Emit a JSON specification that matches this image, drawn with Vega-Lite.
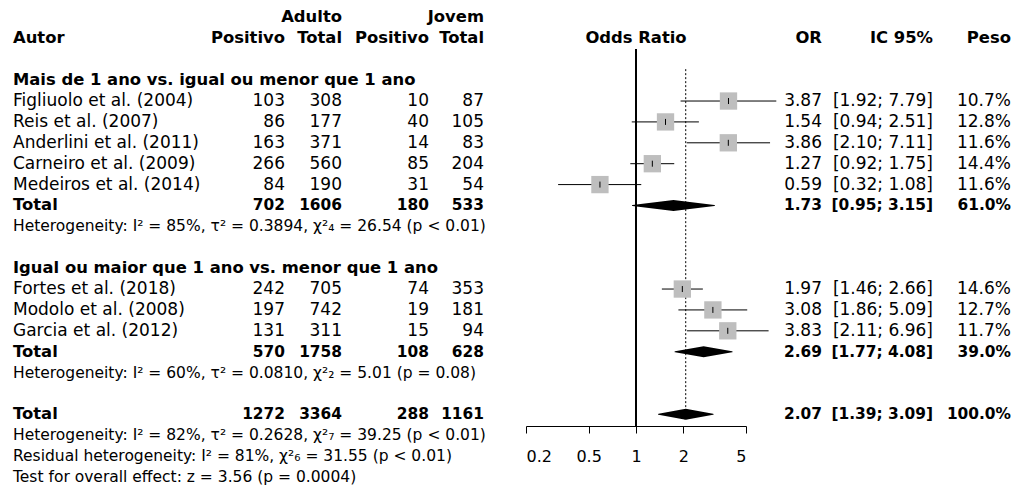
{
  "$schema": "https://vega.github.io/schema/vega-lite/v6.json",
  "width": 1013,
  "height": 485,
  "autosize": {"type": "none"},
  "padding": 0,
  "background": "white",
  "config": {
    "view": {"stroke": null},
    "axis": {"grid": false, "domainColor": "#000", "tickColor": "#000", "labelColor": "#000", "labelFont": "DejaVu Sans", "labelFontSize": 16, "tickSize": 7, "domainWidth": 1, "tickWidth": 1},
    "text": {"font": "DejaVu Sans", "fontSize": 17, "color": "#000", "baseline": "middle"}
  },
  "data": {"values": [
    {"rid": "hA", "kind": "header", "autor": "", "ap": "", "at": "Adulto", "jp": "", "jt": "Jovem", "ic": "", "peso": "", "orl": "", "plot": ""},
    {"rid": "hB", "kind": "header", "autor": "Autor", "ap": "Positivo", "at": "Total", "jp": "Positivo", "jt": "Total", "ic": "IC 95%", "peso": "Peso", "orl": "OR", "plot": "Odds Ratio"},
    {"rid": "g1", "kind": "group", "autor": "Mais de 1 ano vs. igual ou menor que 1 ano"},
    {"rid": "s1", "kind": "study", "autor": "Figliuolo et al. (2004)", "ap": 103, "at": 308, "jp": 10, "jt": 87, "or": 3.87, "lo": 1.92, "hi": 7.79, "ic": "[1.92; 7.79]", "peso": "10.7%"},
    {"rid": "s2", "kind": "study", "autor": "Reis et al. (2007)", "ap": 86, "at": 177, "jp": 40, "jt": 105, "or": 1.54, "lo": 0.94, "hi": 2.51, "ic": "[0.94; 2.51]", "peso": "12.8%"},
    {"rid": "s3", "kind": "study", "autor": "Anderlini et al. (2011)", "ap": 163, "at": 371, "jp": 14, "jt": 83, "or": 3.86, "lo": 2.10, "hi": 7.11, "ic": "[2.10; 7.11]", "peso": "11.6%"},
    {"rid": "s4", "kind": "study", "autor": "Carneiro et al. (2009)", "ap": 266, "at": 560, "jp": 85, "jt": 204, "or": 1.27, "lo": 0.92, "hi": 1.75, "ic": "[0.92; 1.75]", "peso": "14.4%"},
    {"rid": "s5", "kind": "study", "autor": "Medeiros et al. (2014)", "ap": 84, "at": 190, "jp": 31, "jt": 54, "or": 0.59, "lo": 0.32, "hi": 1.08, "ic": "[0.32; 1.08]", "peso": "11.6%"},
    {"rid": "t1", "kind": "total", "autor": "Total", "ap": 702, "at": 1606, "jp": 180, "jt": 533, "or": 1.73, "lo": 0.95, "hi": 3.15, "ic": "[0.95; 3.15]", "peso": "61.0%"},
    {"rid": "h1", "kind": "het", "autor": "Heterogeneity: I² = 85%, τ² = 0.3894, χ²₄ = 26.54 (p < 0.01)"},
    {"rid": "g2", "kind": "group", "autor": "Igual ou maior que 1 ano vs. menor que 1 ano"},
    {"rid": "s6", "kind": "study", "autor": "Fortes et al. (2018)", "ap": 242, "at": 705, "jp": 74, "jt": 353, "or": 1.97, "lo": 1.46, "hi": 2.66, "ic": "[1.46; 2.66]", "peso": "14.6%"},
    {"rid": "s7", "kind": "study", "autor": "Modolo et al. (2008)", "ap": 197, "at": 742, "jp": 19, "jt": 181, "or": 3.08, "lo": 1.86, "hi": 5.09, "ic": "[1.86; 5.09]", "peso": "12.7%"},
    {"rid": "s8", "kind": "study", "autor": "Garcia et al. (2012)", "ap": 131, "at": 311, "jp": 15, "jt": 94, "or": 3.83, "lo": 2.11, "hi": 6.96, "ic": "[2.11; 6.96]", "peso": "11.7%"},
    {"rid": "t2", "kind": "total", "autor": "Total", "ap": 570, "at": 1758, "jp": 108, "jt": 628, "or": 2.69, "lo": 1.77, "hi": 4.08, "ic": "[1.77; 4.08]", "peso": "39.0%"},
    {"rid": "h2", "kind": "het", "autor": "Heterogeneity: I² = 60%, τ² = 0.0810, χ²₂ = 5.01 (p = 0.08)"},
    {"rid": "t0", "kind": "total", "autor": "Total", "ap": 1272, "at": 3364, "jp": 288, "jt": 1161, "or": 2.07, "lo": 1.39, "hi": 3.09, "ic": "[1.39; 3.09]", "peso": "100.0%"},
    {"rid": "h0a", "kind": "het", "autor": "Heterogeneity: I² = 82%, τ² = 0.2628, χ²₇ = 39.25 (p < 0.01)"},
    {"rid": "h0b", "kind": "het", "autor": "Residual heterogeneity: I² = 81%, χ²₆ = 31.55 (p < 0.01)"},
    {"rid": "h0c", "kind": "het", "autor": "Test for overall effect: z = 3.56 (p = 0.0004)"}
  ]},
  "encoding": {
    "y": {"field": "rid", "type": "nominal", "axis": null,
      "scale": {"type": "point", "domain": ["hA", "hB", "sp0", "g1", "s1", "s2", "s3", "s4", "s5", "t1", "h1", "sp1", "g2", "s6", "s7", "s8", "t2", "h2", "sp2", "t0", "h0a", "h0b", "h0c"], "padding": 0.6086, "align": 0.687}}
  },
  "layer": [
    {
      "layer": [
        {"transform": [{"filter": "datum.kind === 'study'"}], "mark": {"type": "text", "align": "left"},
         "encoding": {"x": {"datum": 13, "type": "quantitative", "scale": {"domain": [0, 1013], "nice": false, "zero": false}, "axis": null}, "text": {"field": "autor", "type": "nominal"}}},
        {"transform": [{"filter": "datum.kind === 'group' || datum.kind === 'total' || datum.kind === 'header'"}], "mark": {"type": "text", "align": "left", "fontWeight": "bold", "fontSize": 16.4},
         "encoding": {"x": {"datum": 13, "type": "quantitative"}, "text": {"field": "autor", "type": "nominal"}}},
        {"transform": [{"filter": "datum.kind === 'het'"}], "mark": {"type": "text", "align": "left", "fontSize": 15.5},
         "encoding": {"x": {"datum": 13, "type": "quantitative"}, "text": {"field": "autor", "type": "nominal"}}},

        {"transform": [{"filter": "datum.kind === 'study'"}], "mark": {"type": "text", "align": "right"},
         "encoding": {"x": {"datum": 285, "type": "quantitative"}, "text": {"field": "ap", "type": "nominal"}}},
        {"transform": [{"filter": "datum.kind === 'study'"}], "mark": {"type": "text", "align": "right"},
         "encoding": {"x": {"datum": 342, "type": "quantitative"}, "text": {"field": "at", "type": "nominal"}}},
        {"transform": [{"filter": "datum.kind === 'study'"}], "mark": {"type": "text", "align": "right"},
         "encoding": {"x": {"datum": 429, "type": "quantitative"}, "text": {"field": "jp", "type": "nominal"}}},
        {"transform": [{"filter": "datum.kind === 'study'"}], "mark": {"type": "text", "align": "right"},
         "encoding": {"x": {"datum": 484, "type": "quantitative"}, "text": {"field": "jt", "type": "nominal"}}},

        {"transform": [{"filter": "datum.kind === 'header'"}], "mark": {"type": "text", "align": "right", "fontWeight": "bold", "fontSize": 16.4},
         "encoding": {"x": {"datum": 285, "type": "quantitative"}, "text": {"field": "ap", "type": "nominal"}}},
        {"transform": [{"filter": "datum.kind === 'header'"}], "mark": {"type": "text", "align": "right", "fontWeight": "bold", "fontSize": 16.4},
         "encoding": {"x": {"datum": 342, "type": "quantitative"}, "text": {"field": "at", "type": "nominal"}}},
        {"transform": [{"filter": "datum.kind === 'header'"}], "mark": {"type": "text", "align": "right", "fontWeight": "bold", "fontSize": 16.4},
         "encoding": {"x": {"datum": 429, "type": "quantitative"}, "text": {"field": "jp", "type": "nominal"}}},
        {"transform": [{"filter": "datum.kind === 'header'"}], "mark": {"type": "text", "align": "right", "fontWeight": "bold", "fontSize": 16.4},
         "encoding": {"x": {"datum": 484, "type": "quantitative"}, "text": {"field": "jt", "type": "nominal"}}},
        {"transform": [{"filter": "datum.kind === 'header'"}], "mark": {"type": "text", "align": "right", "fontWeight": "bold", "fontSize": 16.4},
         "encoding": {"x": {"datum": 822, "type": "quantitative"}, "text": {"field": "orl", "type": "nominal"}}},
        {"transform": [{"filter": "datum.kind === 'header'"}], "mark": {"type": "text", "align": "right", "fontWeight": "bold", "fontSize": 16.4},
         "encoding": {"x": {"datum": 933, "type": "quantitative"}, "text": {"field": "ic", "type": "nominal"}}},
        {"transform": [{"filter": "datum.kind === 'header'"}], "mark": {"type": "text", "align": "right", "fontWeight": "bold", "fontSize": 16.4},
         "encoding": {"x": {"datum": 1011, "type": "quantitative"}, "text": {"field": "peso", "type": "nominal"}}},

        {"transform": [{"filter": "datum.kind === 'total'"}], "mark": {"type": "text", "align": "right", "fontWeight": "bold", "fontSize": 15.4},
         "encoding": {"x": {"datum": 285, "type": "quantitative"}, "text": {"field": "ap", "type": "nominal"}}},
        {"transform": [{"filter": "datum.kind === 'total'"}], "mark": {"type": "text", "align": "right", "fontWeight": "bold", "fontSize": 15.4},
         "encoding": {"x": {"datum": 342, "type": "quantitative"}, "text": {"field": "at", "type": "nominal"}}},
        {"transform": [{"filter": "datum.kind === 'total'"}], "mark": {"type": "text", "align": "right", "fontWeight": "bold", "fontSize": 15.4},
         "encoding": {"x": {"datum": 429, "type": "quantitative"}, "text": {"field": "jp", "type": "nominal"}}},
        {"transform": [{"filter": "datum.kind === 'total'"}], "mark": {"type": "text", "align": "right", "fontWeight": "bold", "fontSize": 15.4},
         "encoding": {"x": {"datum": 484, "type": "quantitative"}, "text": {"field": "jt", "type": "nominal"}}},
        {"transform": [{"filter": "datum.kind === 'total'"}], "mark": {"type": "text", "align": "right", "fontWeight": "bold", "fontSize": 15.4},
         "encoding": {"x": {"datum": 822, "type": "quantitative"}, "text": {"field": "or", "type": "quantitative", "format": ".2f"}}},
        {"transform": [{"filter": "datum.kind === 'total'"}], "mark": {"type": "text", "align": "right", "fontWeight": "bold", "fontSize": 15.4},
         "encoding": {"x": {"datum": 933, "type": "quantitative"}, "text": {"field": "ic", "type": "nominal"}}},
        {"transform": [{"filter": "datum.kind === 'total'"}], "mark": {"type": "text", "align": "right", "fontWeight": "bold", "fontSize": 15.4},
         "encoding": {"x": {"datum": 1011, "type": "quantitative"}, "text": {"field": "peso", "type": "nominal"}}},

        {"transform": [{"filter": "datum.kind === 'study'"}], "mark": {"type": "text", "align": "right"},
         "encoding": {"x": {"datum": 822, "type": "quantitative"}, "text": {"field": "or", "type": "quantitative", "format": ".2f"}}},
        {"transform": [{"filter": "datum.kind === 'study'"}], "mark": {"type": "text", "align": "right"},
         "encoding": {"x": {"datum": 933, "type": "quantitative"}, "text": {"field": "ic", "type": "nominal"}}},
        {"transform": [{"filter": "datum.kind === 'study'"}], "mark": {"type": "text", "align": "right"},
         "encoding": {"x": {"datum": 1011, "type": "quantitative"}, "text": {"field": "peso", "type": "nominal"}}}
      ]
    },
    {
      "layer": [
        {"mark": {"type": "rule", "color": "#000", "strokeWidth": 1, "yOffset": -10, "y2Offset": 12},
         "encoding": {
           "x": {"datum": 1, "type": "quantitative", "scale": {"type": "log", "domain": [0.2, 5], "range": [526, 746], "nice": false, "zero": false},
                 "axis": {"orient": "bottom", "values": [0.2, 0.5, 1, 2, 5], "format": "~g", "offset": -59, "title": null, "labelPadding": 15}},
           "y": {"datum": "sp0", "type": "nominal"},
           "y2": {"datum": "t0"}
         }},
        {"transform": [{"filter": "datum.rid === 't0'"}],
         "mark": {"type": "rule", "color": "#000", "strokeWidth": 1, "strokeDash": [2, 2], "yOffset": -11},
         "encoding": {
           "x": {"field": "or", "type": "quantitative"},
           "y": {"datum": "g1", "type": "nominal"},
           "y2": {"datum": "t0"}
         }},
        {"transform": [{"filter": "datum.kind === 'study'"}],
         "mark": {"type": "rule", "color": "#000", "strokeWidth": 1},
         "encoding": {"x": {"field": "lo", "type": "quantitative"}, "x2": {"field": "hi"}}},
        {"transform": [{"filter": "datum.kind === 'study'"}],
         "mark": {"type": "point", "shape": "square", "filled": true, "size": 300, "color": "#BEBEBE", "opacity": 1, "strokeWidth": 0},
         "encoding": {"x": {"field": "or", "type": "quantitative"}}},
        {"transform": [{"filter": "datum.kind === 'study'"}],
         "mark": {"type": "point", "shape": "M0,-1L0,1", "filled": false, "size": 36, "color": "#000", "opacity": 1, "strokeWidth": 1},
         "encoding": {"x": {"field": "or", "type": "quantitative"}}},
        {"transform": [{"filter": "datum.kind === 'total'"}, {"fold": ["lo", "or", "hi"], "as": ["key", "v"]}],
         "mark": {"type": "trail", "color": "#000", "opacity": 1},
         "encoding": {
           "x": {"field": "v", "type": "quantitative"},
           "detail": {"field": "rid", "type": "nominal"},
           "order": {"field": "v", "type": "quantitative"},
           "size": {"field": "key", "type": "ordinal", "scale": {"type": "ordinal", "domain": ["lo", "or", "hi"], "range": [0, 11, 0]}, "legend": null}
         }},
        {"transform": [{"filter": "datum.rid === 'hB'"}],
         "mark": {"type": "text", "align": "center", "fontWeight": "bold", "fontSize": 16.4},
         "encoding": {"x": {"datum": 1, "type": "quantitative"}, "text": {"field": "plot", "type": "nominal"}}}
      ]
    }
  ],
  "resolve": {"scale": {"x": "independent"}}
}
